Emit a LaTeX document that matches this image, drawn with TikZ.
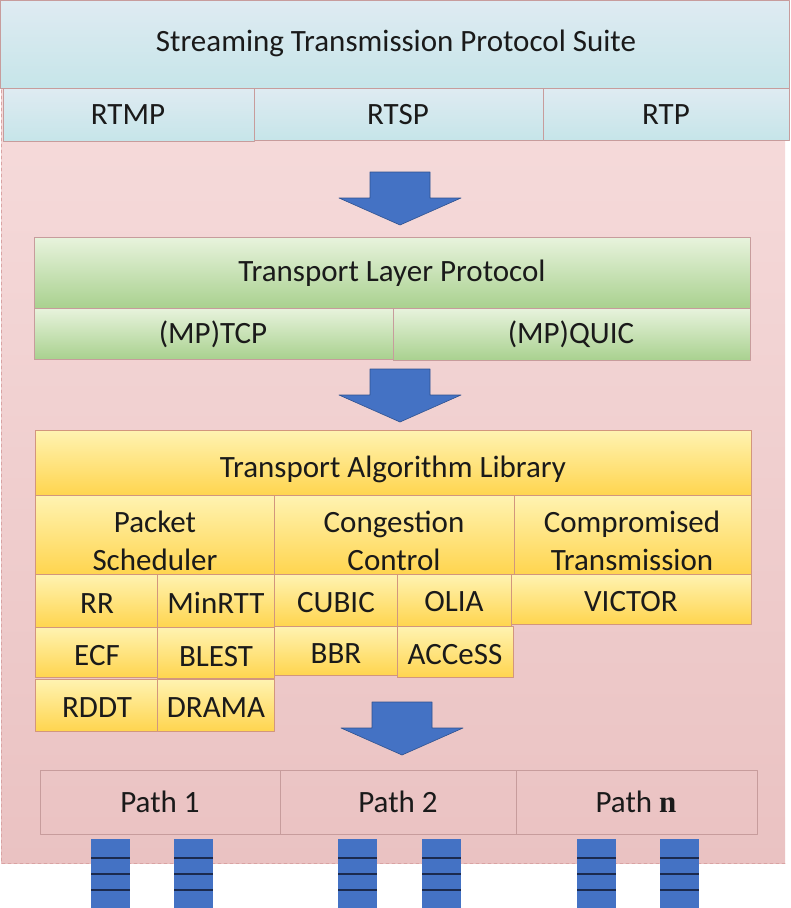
\documentclass[tikz,border=0pt]{standalone}
\usepackage{fontspec}
\setmainfont{Carlito}
\newfontfamily\nfont{Liberation Serif}
\definecolor{pinkA}{HTML}{F7DEDE}
\definecolor{pinkB}{HTML}{EAC2C2}
\definecolor{pinkline}{HTML}{D9A3A3}
\definecolor{boxline}{HTML}{C79C9C}
\definecolor{blueA}{HTML}{DFEBF2}
\definecolor{blueB}{HTML}{C6E5E9}
\definecolor{greenA}{HTML}{E8F3DD}
\definecolor{greenB}{HTML}{A9D18F}
\definecolor{yelA}{HTML}{FFF3B2}
\definecolor{yelB}{HTML}{FFD54F}
\definecolor{arrblue}{HTML}{4472C4}
\definecolor{arredge}{HTML}{2F528F}
\definecolor{qline}{HTML}{1B2A4E}
\definecolor{txt}{HTML}{1A1A1A}
\begin{document}
\begin{tikzpicture}[x=1pt, y=-1pt, line join=round, line cap=round,
	font=\fontsize{31}{38}\selectfont,
	bluebox/.style={draw=boxline, top color=blueA, bottom color=blueB},
	greenbox/.style={draw=boxline, top color=greenA, bottom color=greenB},
	yelbox/.style={draw=boxline!80!orange, top color=yelA, bottom color=yelB},
	pathbox/.style={draw=boxline, line width=0.8pt},
	lbl/.style={text=txt, align=center, inner sep=0pt}]
	\useasboundingbox (0,0) rectangle (791,908);
	% background
	\shade[top color=pinkA, bottom color=pinkB] (1,0) rectangle (785,863);
	\draw[pinkline, dashed, line width=0.6pt] (1,0)--(1,863)--(785,863);
	% streaming protocols
	\draw[bluebox] (0,0) rectangle (789,88);
	\draw[bluebox] (3,88) rectangle (254,141);
	\draw[bluebox] (254,88) rectangle (543,140);
	\draw[bluebox] (543,88) rectangle (789,140);
	\node[lbl] (suite) at (396,43) {Streaming Transmission Protocol Suite};
	\node[lbl] (rtmp) at (128,115) {RTMP};
	\node[lbl] (rtsp) at (398,115) {RTSP};
	\node[lbl] (rtp) at (666,115) {RTP};
	% transport layer
	\draw[greenbox] (34,237) rectangle (750,308);
	\draw[greenbox] (34,308) rectangle (393,359);
	\draw[greenbox] (393,308) rectangle (750,360);
	\node[lbl] (tlp) at (392,273) {Transport Layer Protocol};
	\node[lbl] (mptcp) at (213,334) {(MP)TCP};
	\node[lbl] (mpquic) at (571,334) {(MP)QUIC};
	% algorithm library
	\draw[yelbox] (35,430) rectangle (751,495);
	\draw[yelbox] (35,495) rectangle (274,574);
	\draw[yelbox] (274,495) rectangle (514,574);
	\draw[yelbox] (514,495) rectangle (751,574);
	\node[lbl] (tal) at (393,469) {Transport Algorithm Library};
	\node[lbl] (sched) at (155,541) {Packet\\Scheduler};
	\node[lbl] (cc) at (394,541) {Congestion\\Control};
	\node[lbl] (comp) at (632,541) {Compromised\\Transmission};
	\draw[yelbox] (35,574) rectangle (157,627);
	\draw[yelbox] (157,574) rectangle (274,627);
	\draw[yelbox] (274,574) rectangle (397,626);
	\draw[yelbox] (397,574) rectangle (511,626);
	\draw[yelbox] (511,574) rectangle (751,624);
	\draw[yelbox] (35,627) rectangle (157,677);
	\draw[yelbox] (157,627) rectangle (274,678);
	\draw[yelbox] (274,626) rectangle (397,675);
	\draw[yelbox] (397,626) rectangle (513,677);
	\draw[yelbox] (35,679) rectangle (157,731);
	\draw[yelbox] (157,679) rectangle (274,731);
	\node[lbl] (rr) at (97,604) {RR};
	\node[lbl] (minrtt) at (216,603) {MinRTT};
	\node[lbl] (cubic) at (336,603) {CUBIC};
	\node[lbl] (olia) at (454,602) {OLIA};
	\node[lbl] (victor) at (631,602) {VICTOR};
	\node[lbl] (ecf) at (97,656) {ECF};
	\node[lbl] (blest) at (216,657) {BLEST};
	\node[lbl] (bbr) at (336,654) {BBR};
	\node[lbl] (access) at (455,655) {ACCeSS};
	\node[lbl] (rddt) at (97,708) {RDDT};
	\node[lbl] (drama) at (216,708) {DRAMA};
	% block arrows
	\foreach \cx/\ty in {400/172, 400/369, 402/702}
		\filldraw[fill=arrblue, draw=arredge, line width=0.6pt]
			(\cx-30,\ty)--(\cx+30,\ty)--(\cx+30,\ty+26)--(\cx+61,\ty+26)
			--(\cx,\ty+53)--(\cx-61,\ty+26)--(\cx-30,\ty+26)--cycle;
	% paths
	\draw[pathbox] (40,770) rectangle (280,834);
	\draw[pathbox] (280,770) rectangle (516,834);
	\draw[pathbox] (516,770) rectangle (757,834);
	\node[lbl] (path1) at (160,802) {Path 1};
	\node[lbl] (path2) at (398,802) {Path 2};
	\node[lbl] (pathn) at (636,802) {Path {\nfont\bfseries n}};
	% queues
	\foreach \x in {91,174,338,422,577,660} {
		\fill[arrblue] (\x,839) rectangle (\x+39,908);
		\foreach \y in {858,874,890}
			\draw[qline, line width=1.6pt, line cap=butt] (\x,\y)--(\x+39,\y);
	}
\end{tikzpicture}
\end{document}
